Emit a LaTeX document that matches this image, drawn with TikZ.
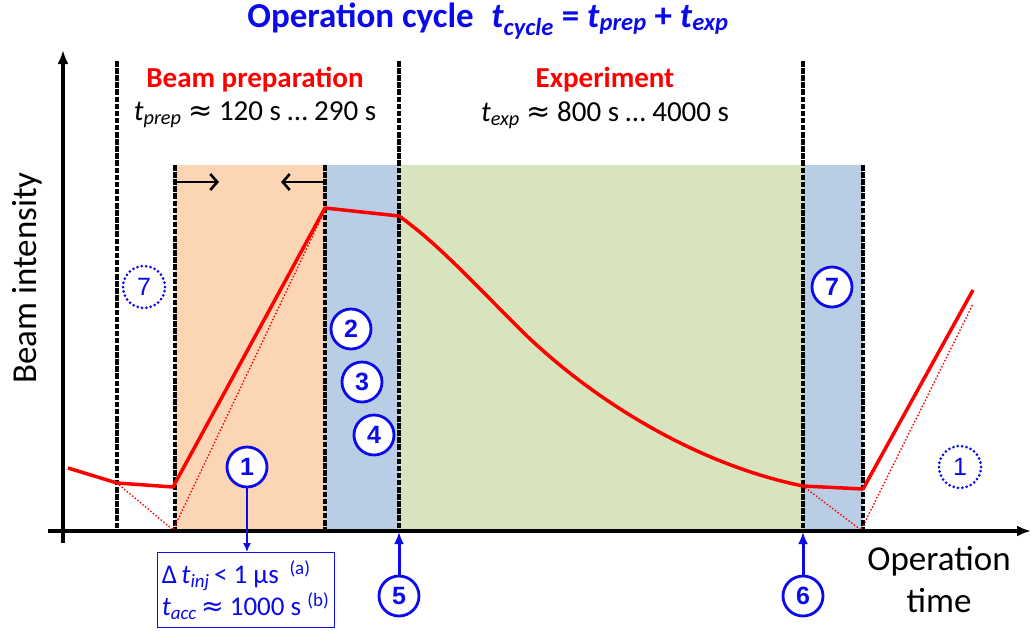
\documentclass[tikz,border=0pt]{standalone}
\usepackage{fontspec}
\setmainfont{Carlito}
\newfontfamily\arialfont{Liberation Sans}
\newfontfamily\symfont{DejaVu Sans}
\usetikzlibrary{arrows.meta}
\definecolor{peach}{RGB}{252,213,181}
\definecolor{lblue}{RGB}{185,205,229}
\definecolor{lgreen}{RGB}{215,228,189}
\definecolor{cblue}{RGB}{10,10,235}
\definecolor{cred}{RGB}{255,0,0}
\newcommand{\approxsym}{{\symfont ≈}}
\begin{document}
\begin{tikzpicture}[x=1pt,y=-1pt,
  vdash/.style={black, line width=3.3pt, dash pattern=on 5.5pt off 1.6pt},
  redline/.style={cred, line width=3.5pt, line join=round},
  reddot/.style={cred, line width=2pt, line cap=round, dash pattern=on 0pt off 3.4pt},
  num/.style={circle, draw=cblue, line width=2.8pt, fill=white, minimum size=40pt, inner sep=0pt, text=cblue, font=\arialfont\fontsize{25}{25}\selectfont\bfseries},
  dnum/.style={circle, draw=cblue, line width=3pt, line cap=round, dash pattern=on 0pt off 4.4pt, minimum size=42pt, inner sep=0pt, text=cblue, font=\arialfont\fontsize{25}{25}\selectfont},
  axis/.style={black, line width=3.3pt},
  phase/.style={text=cred, font=\fontsize{29}{29}\selectfont\bfseries},
  dur/.style={text=black, font=\fontsize{29}{29}\selectfont},
  lab/.style={text=black, font=\fontsize{35}{42}\selectfont, align=center},
  uparrow/.style={cblue, line width=3pt, -{Latex[length=12pt,width=10pt]}},
  barb/.style={black, line width=2.6pt, -{Straight Barb[length=7pt,width=16pt]}}
]
\useasboundingbox (0,0) rectangle (1031,630);
% phase backgrounds
\fill[peach] (175,165) rectangle (325,531);
\fill[lblue] (325,165) rectangle (399,531);
\fill[lgreen] (399,165) rectangle (803,531);
\fill[lblue] (803,165) rectangle (863,531);
% dashed boundaries
\draw[vdash] (117,61) -- (117,531);
\draw[vdash] (175,165) -- (175,531);
\draw[vdash] (325,165) -- (325,531);
\draw[vdash] (399,61) -- (399,531);
\draw[vdash] (803,61) -- (803,531);
\draw[vdash] (863,165) -- (863,531);
% small arrows
\coordinate (pl) at (175,182);
\coordinate (plh) at (219,182);
\coordinate (pr) at (325,182);
\coordinate (prh) at (281,182);
\draw[barb] (pl) -- (plh);
\draw[barb] (pr) -- (prh);
% beam intensity
\draw[reddot] (117,483) -- (173,530) -- (325,210);
\draw[reddot] (803,486) -- (861,530) -- (973,304);
\draw[redline] (68,468) -- (117,483) -- (173,487) -- (325,208) -- (399,216)
  .. controls (440,245) and (480,290) .. (528,337)
  .. controls (600,405) and (700,465) .. (803,486) -- (863,489) -- (973,290);
% axes
\coordinate (yb) at (63,543);
\coordinate (yt) at (63,50);
\coordinate (xl) at (48,531);
\coordinate (xr) at (1031,531);
\draw[axis, -{Latex[length=14pt,width=11pt]}] (yb) -- (yt);
\draw[axis, -{Latex[length=14pt,width=11pt]}] (xl) -- (xr);
% texts
\node (title) at (488,21) {\color{cblue}\fontsize{35}{35}\selectfont\bfseries Operation cycle\enspace \textit{t}\textsubscript{\textit{cycle}} = \textit{t}\textsubscript{\textit{prep}} + \textit{t}\textsubscript{\textit{exp}}};
\node[phase] (bp) at (255,80) {Beam preparation};
\node[dur] (tp) at (255,115) {\textit{t}\textsubscript{\textit{prep}} \approxsym{} 120 s … 290 s};
\node[phase] (ex) at (605,80) {Experiment};
\node[dur] (te) at (605,115) {\textit{t}\textsubscript{\textit{exp}} \approxsym{} 800 s … 4000 s};
\node[lab, rotate=90] (ylab) at (27,278) {Beam intensity};
\node[lab] (xlab) at (939,580) {Operation\\time};
% circles
\node[dnum] (c7a) at (144,287) {7};
\node[num] (c1) at (247,467) {1};
\node[num] (c2) at (351,329) {2};
\node[num] (c3) at (362,382) {3};
\node[num] (c4) at (374,435) {4};
\node[num] (c5) at (399,596) {5};
\node[num] (c6) at (803,596) {6};
\node[num] (c7) at (832,287) {7};
\node[dnum] (c1b) at (960,467) {1};
% box
\node[draw=cblue, line width=1pt, text=cblue, align=left, minimum width=177pt, minimum height=75pt, inner sep=0pt,
  font=\fontsize{27}{32}\selectfont] (box) at (245.5,590)
  {Δ\,\textit{t}\textsubscript{\textit{inj}}\,< 1 μs \,\textsuperscript{(a)}\\\textit{t}\textsubscript{\textit{acc}}\,\approxsym{} 1000 s \textsuperscript{(b)}};
\draw[cblue, line width=1.5pt, -{Latex[length=9pt,width=8pt]}] (c1.south) -- (c1.south |- box.north);
\coordinate (a5) at (399,532);
\coordinate (a6) at (803,532);
\draw[uparrow] (c5) -- (a5);
\draw[uparrow] (c6) -- (a6);
\end{tikzpicture}
\end{document}
